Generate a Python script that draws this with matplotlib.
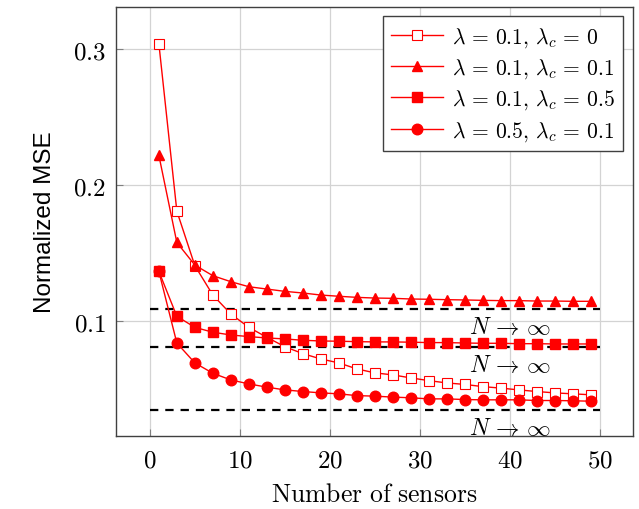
import numpy as np
import matplotlib
matplotlib.use("Agg")
import matplotlib.pyplot as plt
from matplotlib.ticker import FuncFormatter

plt.rcParams["mathtext.fontset"] = "cm"
plt.rcParams["lines.scale_dashes"] = False

# number of sensors (marker positions)
sensors = list(range(1, 50, 2))

mse_lc0 = [0.304, 0.181, 0.141, 0.1194, 0.1055, 0.0957, 0.0884, 0.0815, 0.0764, 0.0725,
           0.0696, 0.0652, 0.0623, 0.0608, 0.0586, 0.0566, 0.0549, 0.0538, 0.0522, 0.0511,
           0.0498, 0.0486, 0.0476, 0.0469, 0.0462]
mse_lc01 = [0.222, 0.158, 0.1414, 0.1336, 0.1292, 0.1255, 0.1238, 0.1221, 0.1209, 0.1194,
            0.1185, 0.1177, 0.1172, 0.1170, 0.1165, 0.1163, 0.1160, 0.1158, 0.1155, 0.1153,
            0.1153, 0.1150, 0.1150, 0.1148, 0.1148]
mse_lc05 = [0.1368, 0.1038, 0.0957, 0.0921, 0.0901, 0.0889, 0.0879, 0.0872, 0.0862, 0.0857,
            0.0855, 0.0852, 0.0850, 0.0850, 0.0848, 0.0845, 0.0845, 0.0842, 0.0840, 0.0840,
            0.0837, 0.0837, 0.0835, 0.0835, 0.0835]
mse_l05 = [0.1368, 0.0842, 0.0696, 0.0620, 0.0571, 0.0542, 0.0518, 0.0498, 0.0486, 0.0476,
           0.0469, 0.0456, 0.0452, 0.0445, 0.0440, 0.0432, 0.0432, 0.0427, 0.0425, 0.0425,
           0.0425, 0.0420, 0.0420, 0.0418, 0.0415]

# asymptotic values (N -> infinity)
limits = [0.109, 0.081, 0.035]
limit_span = [0, 50]

labels = [r"$\lambda\,=\,0.1,\,\lambda_c\,=\,0$",
          r"$\lambda\,=\,0.1,\,\lambda_c\,=\,0.1$",
          r"$\lambda\,=\,0.1,\,\lambda_c\,=\,0.5$",
          r"$\lambda\,=\,0.5,\,\lambda_c\,=\,0.1$"]

fig = plt.figure(figsize=(6.39, 5.10), dpi=100)
ax = fig.add_axes([0.181, 0.143, 0.8096, 0.8408])

red = "#ff0000"
ax.plot(sensors, mse_lc0, color=red, lw=1.0, marker="s", ms=7.6, mfc="white",
        mec=red, mew=0.8, label=labels[0], zorder=3)
ax.plot(sensors, mse_lc01, color=red, lw=1.0, marker="^", ms=7.0, mfc=red,
        mec=red, label=labels[1], zorder=3)
ax.plot(sensors, mse_lc05, color=red, lw=1.0, marker="s", ms=7.2, mfc=red,
        mec=red, label=labels[2], zorder=4)
ax.plot(sensors, mse_l05, color=red, lw=1.0, marker="o", ms=7.6, mfc=red,
        mec=red, label=labels[3], zorder=3)

for v in limits:
    ax.plot(limit_span, [v, v], color="black", lw=1.6, dashes=(6, 5), zorder=2)
    ax.text(40, v - 0.0035, r"$N\,\rightarrow\,\infty$", ha="center", va="top", fontsize=17)

ax.set_xlim(-3.8, 53.7)
ax.set_ylim(0.0159, 0.3306)
ax.set_xticks([0, 10, 20, 30, 40, 50])
ax.set_yticks([0.1, 0.2, 0.3])
ax.xaxis.set_major_formatter(FuncFormatter(lambda v, p: f"${v:g}$"))
ax.yaxis.set_major_formatter(FuncFormatter(lambda v, p: f"${v:.1f}$"))
ax.tick_params(direction="in", length=5, color="#808080", labelsize=18, width=0.8)
ax.tick_params(axis="x", pad=8)
ax.tick_params(axis="y", pad=7)
ax.grid(color="#d3d3d3", lw=0.9)
ax.set_axisbelow(True)
for s in ax.spines.values():
    s.set_color("#404040")
    s.set_linewidth(1.0)

ax.set_xlabel(r"$\mathrm{Number\ of\ sensors}$", fontsize=18.5, labelpad=7)
ax.set_ylabel("Normalized MSE", fontsize=17.5, family="Liberation Sans", labelpad=12)

leg = ax.legend(loc="upper right", fontsize=15.5, frameon=True, fancybox=False,
                edgecolor="#404040", framealpha=1, handlelength=2.4,
                borderpad=0.4, labelspacing=0.35, handletextpad=0.4,
                borderaxespad=0, bbox_to_anchor=(0.981, 0.979))
leg.get_frame().set_linewidth(1.0)

fig.savefig("out.png", dpi=100)
